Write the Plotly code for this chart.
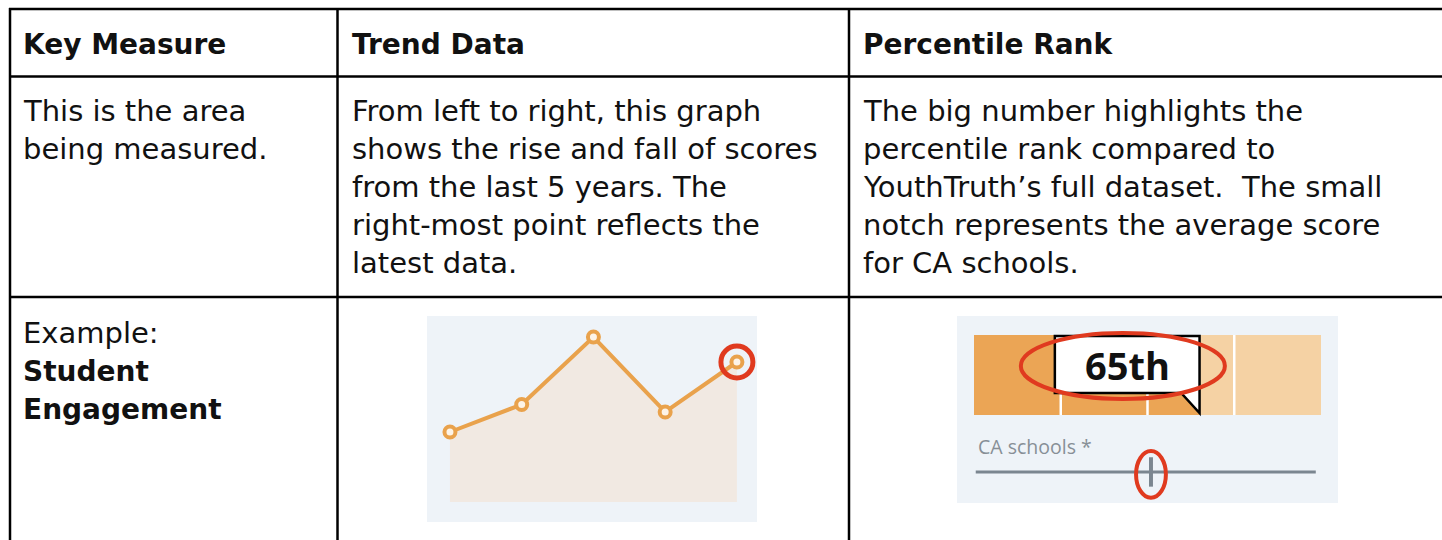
import plotly.graph_objects as go

W, H = 1442, 540

# ---------------- data ----------------
headers = ["Key Measure", "Trend Data", "Percentile Rank"]
col1_lines = ["This is the area", "being measured."]
col2_lines = ["From left to right, this graph",
              "shows the rise and fall of scores",
              "from the last 5 years. The",
              "right-most point reflects the",
              "latest data."]
col3_lines = ["The big number highlights the",
              "percentile rank compared to",
              "YouthTruth\u2019s full dataset.  The small",
              "notch represents the average score",
              "for CA schools."]
example_label = "Example:"
example_measure = ["Student", "Engagement"]

trend_years = ["Y1", "Y2", "Y3", "Y4", "Y5"]
trend_scores = [3.28, 3.39, 3.66, 3.36, 3.56]
trend_base = [3.0, 3.0, 3.0, 3.0, 3.0]

quartile_edges = [0, 25, 50, 75, 100]
rank_value = 65
rank_label = "65th"
ca_label = "CA schools *"
ca_average = 51
ca_line_x = [0.5, 98.5]

# ---------------- colours ----------------
ORANGE = "#e9a24c"
AREA = "#f1e9e2"
PANEL = "#eef3f8"
RED = "#e03a1f"
DARK = "#eba555"
LIGHT = "#f5d2a4"
GREY = "#7b8690"
GREYTXT = "#878f96"


def X(px):
    return px / W


def Y(py):
    return 1 - py / H


fig = go.Figure()

# ---------- trend chart (x / y) ----------
fig.add_trace(go.Scatter(x=trend_years, y=trend_base, mode="lines",
                         line=dict(width=0, color=AREA), hoverinfo="skip",
                         xaxis="x", yaxis="y"))
fig.add_trace(go.Scatter(x=trend_years, y=trend_scores, mode="lines+markers",
                         fill="tonexty", fillcolor=AREA,
                         line=dict(color=ORANGE, width=4),
                         marker=dict(symbol="circle", size=11, color="#fdf4e8",
                                     line=dict(color=ORANGE, width=4)),
                         xaxis="x", yaxis="y"))
fig.add_trace(go.Scatter(x=trend_years[-1:], y=trend_scores[-1:], mode="markers",
                         marker=dict(symbol="circle-open", size=32, color=RED,
                                     line=dict(width=5)),
                         xaxis="x", yaxis="y"))

# ---------- percentile chart (x2 / y2) ----------
edges = sorted(set(quartile_edges + [rank_value]))
for a, b in zip(edges[:-1], edges[1:]):
    fig.add_trace(go.Bar(y=[1], x=[b - a], base=[a], orientation="h",
                         width=0.825,
                         marker=dict(color=DARK if b <= rank_value else LIGHT,
                                     line=dict(width=0)),
                         xaxis="x2", yaxis="y2", hoverinfo="skip"))

fig.add_trace(go.Scatter(x=ca_line_x, y=[0, 0], mode="lines",
                         line=dict(color=GREY, width=3),
                         xaxis="x2", yaxis="y2"))
fig.add_trace(go.Scatter(x=[ca_average], y=[0], mode="markers",
                         marker=dict(symbol="line-ns-open", size=21, color=GREY,
                                     line=dict(width=4, color=GREY)),
                         xaxis="x2", yaxis="y2"))

shapes = []
# panel backgrounds
for xr, yr in (("x domain", "y domain"), ("x2 domain", "y2 domain")):
    shapes.append(dict(type="rect", xref=xr, yref=yr, x0=0, x1=1, y0=0, y1=1,
                       fillcolor=PANEL, line=dict(width=0), layer="below"))

# quartile dividers
for e in quartile_edges[1:-1]:
    shapes.append(dict(type="line", xref="x2", yref="y2", x0=e, x1=e,
                       y0=1 - 0.4125, y1=1 + 0.4125,
                       line=dict(color="white", width=2.5)))

# callout box with tail pointing at the rank
bx0 = rank_value - 41.7
path = (f"M {bx0},1.402 L {rank_value},1.402 L {rank_value},0.608 "
        f"L {rank_value - 5.3},0.814 L {bx0},0.814 Z")
shapes.append(dict(type="path", xref="x2", yref="y2", path=path,
                   fillcolor="white", line=dict(color="black", width=2.5)))

# red highlight ellipses
shapes.append(dict(type="circle", xref="x2", yref="y2",
                   x0=rank_value - 51.5, x1=rank_value + 7.3,
                   y0=0.753, y1=1.433, line=dict(color=RED, width=4)))
shapes.append(dict(type="circle", xref="x2", yref="y2",
                   x0=ca_average - 4.3, x1=ca_average + 4.3,
                   y0=-0.265, y1=0.215, line=dict(color=RED, width=4)))

# table rules
for yy in (9, 76.5, 297):
    shapes.append(dict(type="line", xref="paper", yref="paper",
                       x0=X(9), x1=X(W + 5), y0=Y(yy), y1=Y(yy),
                       line=dict(color="black", width=2.5)))
for xx in (10, 337.5, 849):
    shapes.append(dict(type="line", xref="paper", yref="paper",
                       x0=X(xx), x1=X(xx), y0=Y(8), y1=Y(H + 5),
                       line=dict(color="black", width=2.5)))

annotations = []


def add_text(x, baseline, text, size, family="DejaVu Sans", color="#111111"):
    annotations.append(dict(x=X(x - 3), y=Y(baseline - 0.346 * size), xref="paper",
                            yref="paper", xanchor="left", yanchor="middle",
                            text=text, showarrow=False,
                            font=dict(family=family, size=size, color=color)))


col_x = [24, 353, 864]
for cx, h in zip(col_x, headers):
    add_text(cx, 54, f"<b>{h}</b>", 28)
for i, t in enumerate(col1_lines):
    add_text(col_x[0], 121 + 38 * i, t, 29)
for i, t in enumerate(col2_lines):
    add_text(col_x[1], 121 + 38 * i, t, 29)
for i, t in enumerate(col3_lines):
    add_text(col_x[2], 121 + 38 * i, t, 29)
add_text(col_x[0], 343, example_label, 29)
for i, t in enumerate(example_measure):
    add_text(col_x[0], 381 + 38 * i, f"<b>{t}</b>", 28)

# percentile labels (data coords)
annotations.append(dict(x=rank_value - 20.8, y=1.108, xref="x2", yref="y2",
                        text=f"<b>{rank_label}</b>", showarrow=False,
                        font=dict(family="Open Sans", size=38, color="#111111")))
annotations.append(dict(x=ca_line_x[0], y=0.26, xref="x2", yref="y2",
                        xanchor="left", yanchor="middle", text=ca_label,
                        showarrow=False,
                        font=dict(family="Open Sans", size=19.5, color=GREYTXT)))

fig.update_layout(
    width=W, height=H, margin=dict(l=0, r=0, t=0, b=0),
    paper_bgcolor="white", plot_bgcolor="rgba(0,0,0,0)",
    showlegend=False, barmode="overlay",
    xaxis=dict(domain=[X(427), X(757)], range=[-0.32, 4.28], type="category",
               visible=False, fixedrange=True),
    yaxis=dict(domain=[Y(522), Y(316)], range=[2.92, 3.744], visible=False,
               fixedrange=True),
    xaxis2=dict(domain=[X(957), X(1338)], range=[-4.9, 104.9], visible=False,
                anchor="y2", fixedrange=True),
    yaxis2=dict(domain=[Y(503), Y(316)], range=[-0.32, 1.608], visible=False,
                anchor="x2", fixedrange=True),
    shapes=shapes, annotations=annotations,
)

fig.write_html("out.html", config={"displayModeBar": False},
               post_script="document.body.style.margin='0px';")
